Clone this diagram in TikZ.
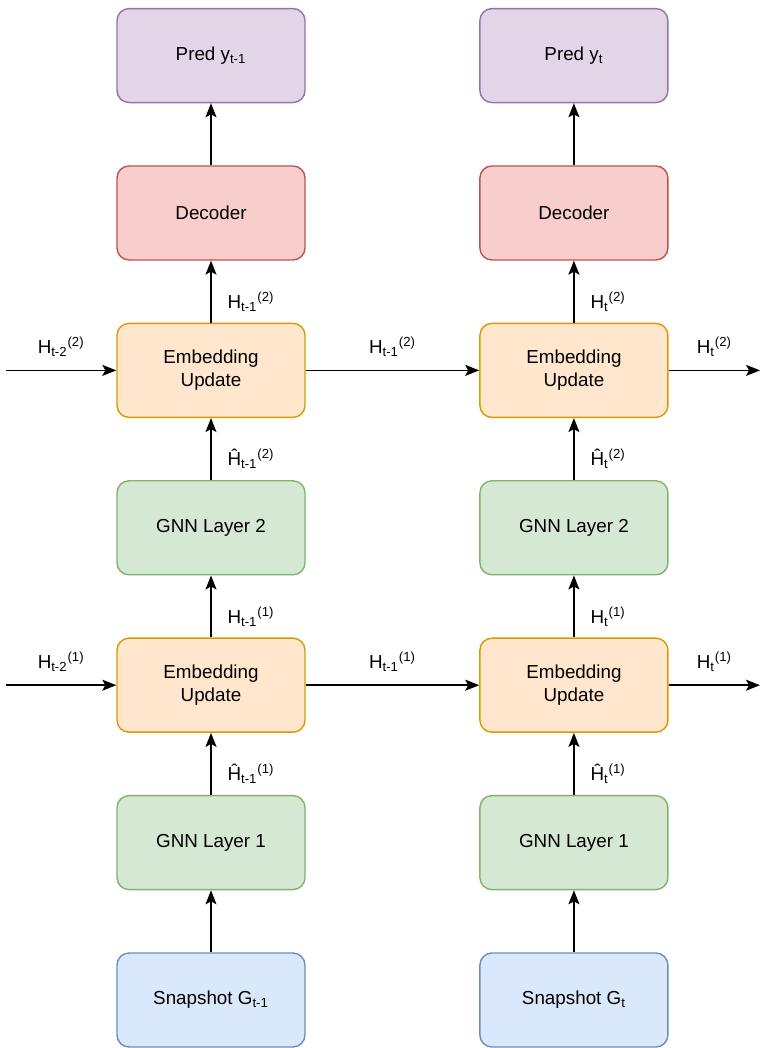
\documentclass[tikz,border=0pt]{standalone}
\usepackage{fontspec}
\setmainfont{Liberation Sans}
\usepackage{xcolor}
\usetikzlibrary{arrows.meta,positioning}

\definecolor{predfill}{HTML}{E1D5E7}\definecolor{preddraw}{HTML}{9673A6}
\definecolor{decfill}{HTML}{F8CECC}\definecolor{decdraw}{HTML}{B85450}
\definecolor{embfill}{HTML}{FFE6CC}\definecolor{embdraw}{HTML}{D79B00}
\definecolor{gnnfill}{HTML}{D5E8D4}\definecolor{gnndraw}{HTML}{82B366}
\definecolor{snapfill}{HTML}{DAE8FC}\definecolor{snapdraw}{HTML}{6C8EBF}

\begin{document}
\begin{tikzpicture}[
    node distance=1.24cm,
    font=\fontsize{10.7}{13}\selectfont,
    box/.style={rectangle, draw, rounded corners=0.24cm, line width=0.8pt, minimum width=3.76cm, minimum height=1.88cm, align=center},
    pred/.style={box, fill=predfill, draw=preddraw},
    dec/.style={box, fill=decfill, draw=decdraw},
    emb/.style={box, fill=embfill, draw=embdraw},
    gnn/.style={box, fill=gnnfill, draw=gnndraw},
    snap/.style={box, fill=snapfill, draw=snapdraw},
    flow/.style={-{Stealth[length=0.28cm, width=0.22cm, inset=0.06cm]}, line width=0.85pt},
    vlab/.style={midway, anchor=west, xshift=0.2cm, yshift=-0.2cm},
    hlab/.style={midway, above=0.14cm},
]
    \useasboundingbox (0,0) rectangle (15.2,-20.96);

    % column t-1
    \node[snap] (snap-a) at (4.22,-20.0) {Snapshot G\textsubscript{t-1}};
    \node[gnn, above=of snap-a] (gnn1-a) {GNN Layer 1};
    \node[emb, above=of gnn1-a] (emb1-a) {Embedding\\Update};
    \node[gnn, above=of emb1-a] (gnn2-a) {GNN Layer 2};
    \node[emb, above=of gnn2-a] (emb2-a) {Embedding\\Update};
    \node[dec, above=of emb2-a] (dec-a) {Decoder};
    \node[pred, above=of dec-a] (pred-a) {Pred y\textsubscript{t-1}};

    % column t
    \node[snap, right=3.47cm of snap-a] (snap-b) {Snapshot G\textsubscript{t}};
    \node[gnn, above=of snap-b] (gnn1-b) {GNN Layer 1};
    \node[emb, above=of gnn1-b] (emb1-b) {Embedding\\Update};
    \node[gnn, above=of emb1-b] (gnn2-b) {GNN Layer 2};
    \node[emb, above=of gnn2-b] (emb2-b) {Embedding\\Update};
    \node[dec, above=of emb2-b] (dec-b) {Decoder};
    \node[pred, above=of dec-b] (pred-b) {Pred y\textsubscript{t}};

    % loose ends of the recurrent arrows
    \coordinate (in1) at (0.12,0 |- emb1-a);
    \coordinate (in2) at (0.12,0 |- emb2-a);
    \coordinate (out1) at (15.2,0 |- emb1-b);
    \coordinate (out2) at (15.2,0 |- emb2-b);

    % vertical arrows
    \draw[flow] (snap-a) -- (gnn1-a);
    \draw[flow] (gnn1-a) -- node[vlab] {Ĥ\textsubscript{t-1}\textsuperscript{(1)}} (emb1-a);
    \draw[flow] (emb1-a) -- node[vlab] {H\textsubscript{t-1}\textsuperscript{(1)}} (gnn2-a);
    \draw[flow] (gnn2-a) -- node[vlab] {Ĥ\textsubscript{t-1}\textsuperscript{(2)}} (emb2-a);
    \draw[flow] (emb2-a) -- node[vlab] {H\textsubscript{t-1}\textsuperscript{(2)}} (dec-a);
    \draw[flow] (dec-a) -- (pred-a);

    \draw[flow] (snap-b) -- (gnn1-b);
    \draw[flow] (gnn1-b) -- node[vlab] {Ĥ\textsubscript{t}\textsuperscript{(1)}} (emb1-b);
    \draw[flow] (emb1-b) -- node[vlab] {H\textsubscript{t}\textsuperscript{(1)}} (gnn2-b);
    \draw[flow] (gnn2-b) -- node[vlab] {Ĥ\textsubscript{t}\textsuperscript{(2)}} (emb2-b);
    \draw[flow] (emb2-b) -- node[vlab] {H\textsubscript{t}\textsuperscript{(2)}} (dec-b);
    \draw[flow] (dec-b) -- (pred-b);

    % horizontal arrows
    \draw[flow] (in1) -- node[hlab] {H\textsubscript{t-2}\textsuperscript{(1)}} (emb1-a);
    \draw[flow] (in2) -- node[hlab] {H\textsubscript{t-2}\textsuperscript{(2)}} (emb2-a);
    \draw[flow] (emb1-a) -- node[hlab] {H\textsubscript{t-1}\textsuperscript{(1)}} (emb1-b);
    \draw[flow] (emb2-a) -- node[hlab] {H\textsubscript{t-1}\textsuperscript{(2)}} (emb2-b);
    \draw[flow] (emb1-b) -- node[hlab] {H\textsubscript{t}\textsuperscript{(1)}} (out1);
    \draw[flow] (emb2-b) -- node[hlab] {H\textsubscript{t}\textsuperscript{(2)}} (out2);

\end{tikzpicture}
\end{document}
